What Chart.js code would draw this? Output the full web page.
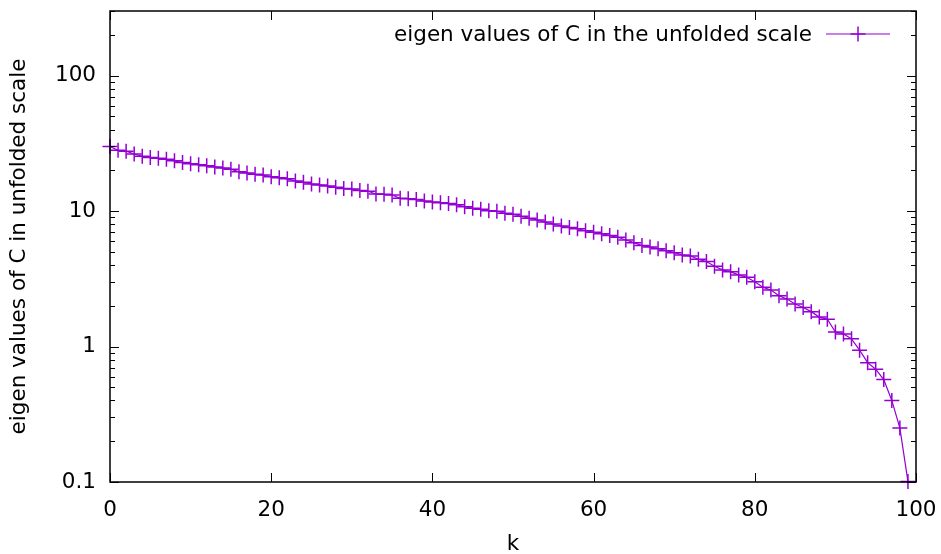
<!DOCTYPE html>
<html>
<head>
<meta charset="utf-8">
<script src="https://cdn.jsdelivr.net/npm/chart.js@4.4.1/dist/chart.umd.min.js"></script>
<style>
  html, body { margin: 0; padding: 0; background: #fff; }
  #wrap { width: 941px; height: 554px; }
</style>
</head>
<body>
<div id="wrap"><canvas id="c" width="941" height="554"></canvas></div>
<script>
// ---- data ----
const kValues = Array.from({length: 100}, (_, i) => i);
const eigenValues = [
  30.0, 28.1, 27.7, 26.4, 25.4, 24.9, 24.5, 24.1, 23.5, 22.8,
  22.4, 22.0, 21.6, 21.2, 20.8, 20.4, 19.5, 19.1, 18.7, 18.45,
  17.9, 17.6, 17.3, 16.7, 16.3, 15.85, 15.6, 15.35, 14.97, 14.7,
  14.55, 14.2, 14.0, 13.37, 13.3, 13.15, 12.42, 12.34, 12.2, 11.86,
  11.67, 11.53, 11.4, 11.14, 10.77, 10.49, 10.31, 10.07, 9.97, 9.64,
  9.47, 9.16, 8.85, 8.6, 8.3, 8.02, 7.76, 7.55, 7.41, 7.16,
  6.98, 6.81, 6.59, 6.41, 6.12, 5.85, 5.56, 5.43, 5.28, 5.10,
  4.93, 4.74, 4.67, 4.41, 4.24, 3.92, 3.68, 3.56, 3.38, 3.25,
  3.01, 2.74, 2.61, 2.37, 2.24, 2.06, 1.94, 1.81, 1.65, 1.59,
  1.28, 1.24, 1.14, 0.94, 0.76, 0.68, 0.57, 0.40, 0.25, 0.101
];
const seriesLabel = 'eigen values of C in the unfolded scale';
const xTickValues = [0, 20, 40, 60, 80, 100];
const yTickValues = [0.1, 1, 10, 100];
const yTickLabels = ['0.1', '1', '10', '100'];
const xTitle = 'k';
const yTitle = 'eigen values of C in unfolded scale';

const FONT = 'DejaVu Sans';
const FS = 21.5;
const COLOR = '#9400D3';

const gpFrame = {
  id: 'gpFrame',
  afterDraw(chart) {
    const {ctx, chartArea: a, scales: {x, y}} = chart;
    ctx.save();
    ctx.strokeStyle = '#000';
    ctx.lineWidth = 1;
    const line = (x1, y1, x2, y2) => { ctx.beginPath(); ctx.moveTo(x1, y1); ctx.lineTo(x2, y2); ctx.stroke(); };
    xTickValues.forEach(v => {
      const px = Math.round(x.getPixelForValue(v)) + 0.5;
      line(px, a.bottom, px, a.bottom - 9);
      line(px, a.top, px, a.top + 9);
    });
    const yMin = y.min, yMax = y.max;
    yTickValues.forEach(d => {
      for (let m = 1; m <= 9; m++) {
        const v = m * d;
        if (v < yMin - 1e-9 || v > yMax + 1e-9) continue;
        const py = Math.round(y.getPixelForValue(v)) + 0.5;
        const len = m === 1 ? 9 : 5;
        line(a.left, py, a.left + len, py);
        line(a.right, py, a.right - len, py);
      }
    });
    ctx.lineWidth = 1.5;
    ctx.strokeRect(a.left, a.top, a.right - a.left, a.bottom - a.top);
    // legend (gnuplot style, inside top-right)
    const ds = chart.data.datasets[0];
    const ly = 34;
    ctx.font = FS + 'px "' + FONT + '"';
    ctx.fillStyle = '#000';
    ctx.textAlign = 'right';
    ctx.textBaseline = 'middle';
    ctx.fillText(ds.label, 812, ly + 1);
    ctx.strokeStyle = ds.borderColor;
    ctx.lineWidth = 1.2;
    line(826, ly, 890, ly);
    ctx.lineWidth = 1.5;
    line(858 - 7.5, ly, 858 + 7.5, ly);
    line(858, ly - 7.5, 858, ly + 7.5);
    ctx.restore();
  }
};

new Chart(document.getElementById('c'), {
  type: 'line',
  data: {
    labels: kValues,
    datasets: [{
      label: seriesLabel,
      data: kValues.map((k, i) => ({x: k, y: eigenValues[i]})),
      borderColor: COLOR,
      backgroundColor: COLOR,
      borderWidth: 1.2,
      pointStyle: 'cross',
      pointRadius: 7.5,
      pointBorderWidth: 1.5,
      pointBorderColor: COLOR,
      tension: 0,
      fill: false,
      clip: false
    }]
  },
  options: {
    responsive: false,
    animation: false,
    events: [],
    layout: { padding: { top: 11, right: 25, left: 0, bottom: 0 } },
    plugins: {
      legend: { display: false },
      tooltip: { enabled: false }
    },
    scales: {
      x: {
        type: 'linear',
        min: 0, max: 100,
        afterBuildTicks(scale) { scale.ticks = xTickValues.map(v => ({value: v})); },
        afterFit(scale) { scale.height = 72; scale.paddingLeft = 0; scale.paddingRight = 0; },
        grid: { display: true, drawOnChartArea: false, drawTicks: false },
        border: { display: false },
        ticks: { color: '#000', font: { family: FONT, size: FS }, padding: 16, maxRotation: 0 },
        title: { display: true, text: xTitle, color: '#000', font: { family: FONT, size: FS }, padding: { top: 0, bottom: -3 } }
      },
      y: {
        type: 'logarithmic',
        min: 0.1, max: 300,
        afterBuildTicks(scale) { scale.ticks = yTickValues.map(v => ({value: v})); },
        afterFit(scale) { scale.width = 110; scale.paddingTop = 0; scale.paddingBottom = 0; },
        grid: { display: true, drawOnChartArea: false, drawTicks: false },
        border: { display: false },
        ticks: {
          color: '#000', font: { family: FONT, size: FS }, padding: 14,
          callback(v) { const i = yTickValues.indexOf(v); return i >= 0 ? yTickLabels[i] : ''; }
        },
        title: { display: true, text: yTitle, color: '#000', font: { family: FONT, size: FS }, padding: { top: 7, bottom: 0 } }
      }
    }
  },
  plugins: [gpFrame]
});
</script>
</body>
</html>
